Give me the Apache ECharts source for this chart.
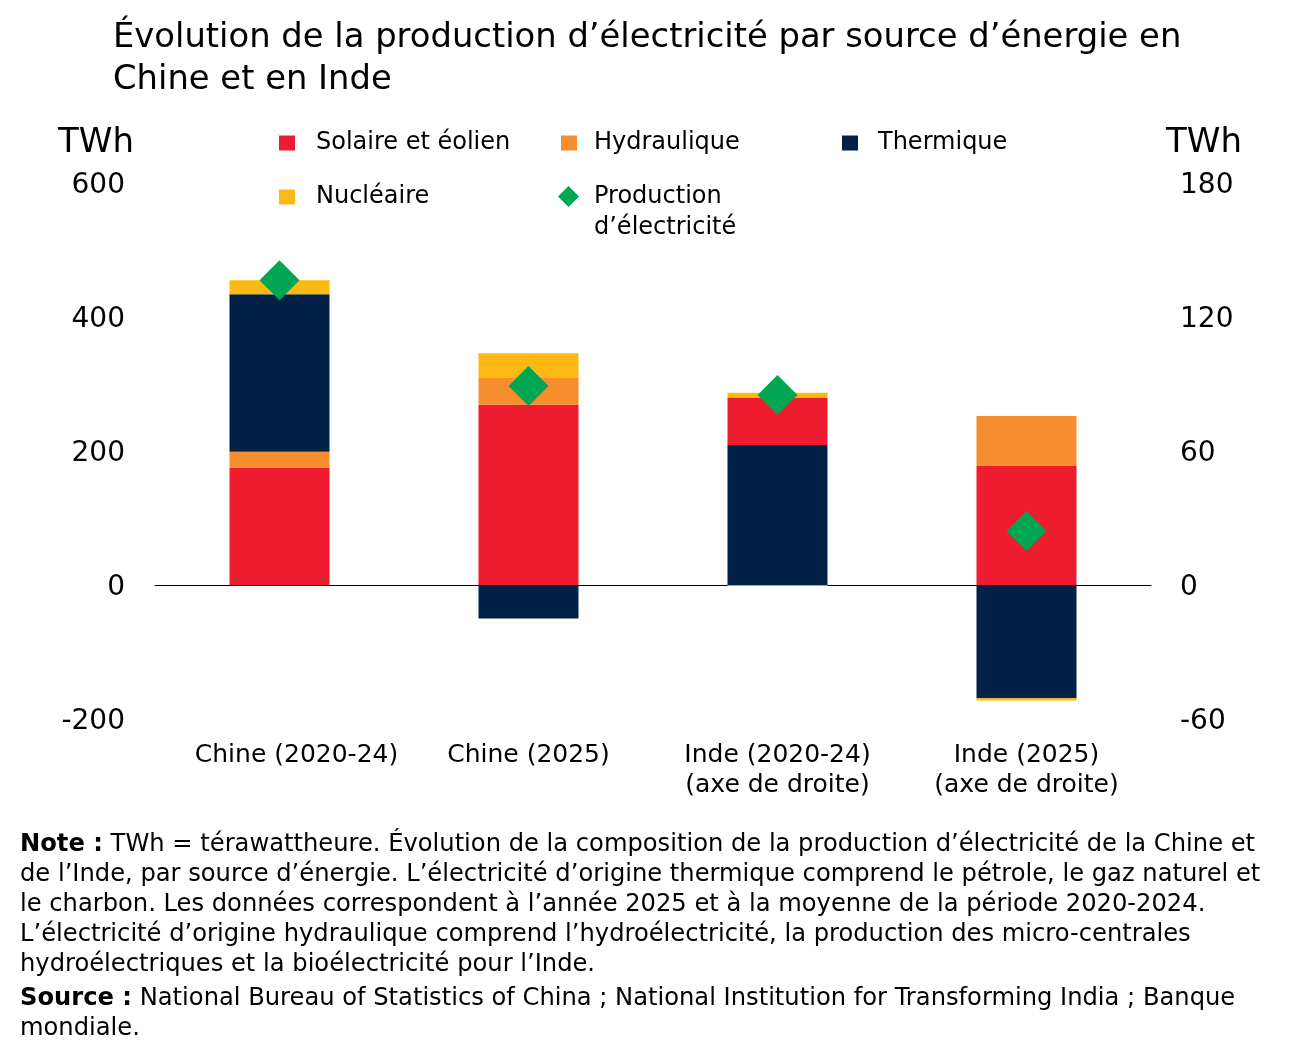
<!DOCTYPE html>
<html><head><meta charset="utf-8">
<script src="https://cdn.jsdelivr.net/npm/echarts@6/dist/echarts.min.js"></script>
<style>html,body{margin:0;padding:0;background:#fff}#c{width:1298px;height:1062px}</style>
</head><body><div id="c"></div>
<script>
// ---- data ----
const categories = ['Chine (2020-24)', 'Chine (2025)', 'Inde (2020-24)\n(axe de droite)', 'Inde (2025)\n(axe de droite)'];
// Chine — left axis (TWh)
const chineSolaire    = [175, 269, '-', '-'];
const chineHydro      = [24, 40, '-', '-'];
const chineThermique  = [235, -50, '-', '-'];
const chineNucleaire  = [21, 37, '-', '-'];
const chineProduction = [455, 297, '-', '-'];
// Inde — right axis (TWh)
const indeThermique   = ['-', '-', 62.7, -50.7];
const indeSolaire     = ['-', '-', 21.2, 53.3];
const indeHydro       = ['-', '-', -0.5, 22.4];
const indeNucleaire   = ['-', '-', 2.2, -1.0];
const indeProduction  = ['-', '-', 85.1, 24.2];
// axis ticks
const leftAxisTicks  = [-200, 0, 200, 400, 600];
const rightAxisTicks = [-60, 0, 60, 120, 180];

const N_SOL = 'Solaire et éolien', N_HYD = 'Hydraulique', N_THE = 'Thermique', N_NUC = 'Nucléaire', N_PRO = 'Production d’électricité';
const C = {sol:'#ED1C2E', hyd:'#F68D2E', the:'#012246', nuc:'#FDB913', pro:'#00A651'};
const FONT = 'DejaVu Sans';

function bar(name, data, color, yi) {
  return {type:'bar', name, data, stack:'all', yAxisIndex:yi, barWidth:100,
    itemStyle:{color}, emphasis:{disabled:true}};
}
function legend(name, left, top, padLeft, opts) {
  return Object.assign({
    data:[name], left, top, orient:'horizontal', padding:0, itemWidth:16, itemHeight:15, icon:'rect',
    selectedMode:false,
    textStyle:{fontFamily:FONT, fontSize:24, color:'#000', lineHeight:30, padding:[0,0,0,padLeft]}
  }, opts || {});
}
const yLabel = (margin) => ({
  margin, formatter:'{v|{value}}',
  rich:{v:{fontFamily:FONT, fontSize:28, color:'#000', padding:[6,0,0,0]}}
});

const chart = echarts.init(document.getElementById('c'), null, {renderer:'canvas'});
chart.setOption({
  backgroundColor:'#fff',
  animation:false,
  textStyle:{fontFamily:FONT},
  title:{
    text:'Évolution de la production d’électricité par source d’énergie en\nChine et en Inde',
    left:113, top:17, padding:0,
    textStyle:{fontFamily:FONT, fontSize:33.8, fontWeight:'normal', color:'#000', lineHeight:42}
  },
  legend:[
    legend(N_SOL, 279, 128, 16),
    legend(N_HYD, 561, 128, 12),
    legend(N_THE, 842, 128, 15),
    legend(N_NUC, 279, 182, 16),
    legend(N_PRO, 558, 150, 12, {icon:'diamond', itemWidth:21, itemHeight:21,
      formatter: () => '\nProduction\nd’électricité',
      textStyle:{fontFamily:FONT, fontSize:24, color:'#000', lineHeight:31, padding:[0,0,0,10]}})
  ],
  grid:{left:155, right:147, top:183, bottom:343, containLabel:false},
  xAxis:[
    {type:'category', data:[
        {value:categories[0], textStyle:{padding:[0,0,0,34]}},
        categories[1], categories[2], categories[3]],
      position:'bottom',
      axisLine:{show:false, onZero:false}, axisTick:{show:false}, splitLine:{show:false},
      axisLabel:{fontFamily:FONT, fontSize:25, color:'#000', lineHeight:30, margin:21, interval:0}},
    {type:'category', data:categories, position:'bottom',
      axisLine:{show:true, onZero:true, lineStyle:{color:'#000', width:1.2}},
      axisTick:{show:false}, axisLabel:{show:false}, splitLine:{show:false}}
  ],
  yAxis:[
    {type:'value', position:'left', min:leftAxisTicks[0], max:leftAxisTicks[leftAxisTicks.length-1], interval:200,
      axisLine:{show:false}, axisTick:{show:false}, splitLine:{show:false},
      axisLabel:yLabel(30)},
    {type:'value', position:'right', min:rightAxisTicks[0], max:rightAxisTicks[rightAxisTicks.length-1], interval:60,
      axisLine:{show:false}, axisTick:{show:false}, splitLine:{show:false},
      axisLabel:yLabel(29)}
  ],
  series:[
    bar(N_SOL, chineSolaire, C.sol, 0),
    bar(N_HYD, chineHydro, C.hyd, 0),
    bar(N_THE, chineThermique, C.the, 0),
    bar(N_NUC, chineNucleaire, C.nuc, 0),
    bar(N_THE, indeThermique, C.the, 1),
    bar(N_SOL, indeSolaire, C.sol, 1),
    bar(N_HYD, indeHydro, C.hyd, 1),
    bar(N_NUC, indeNucleaire, C.nuc, 1),
    {type:'scatter', name:N_PRO, data:chineProduction, yAxisIndex:0, symbol:'diamond', symbolSize:40,
      itemStyle:{color:C.pro, opacity:1}, z:5, emphasis:{disabled:true}},
    {type:'scatter', name:N_PRO, data:indeProduction, yAxisIndex:1, symbol:'diamond', symbolSize:40,
      itemStyle:{color:C.pro, opacity:1}, z:5, emphasis:{disabled:true}}
  ],
  graphic:[
    {type:'text', left:58, top:126, style:{text:'TWh', font:'34px "DejaVu Sans"', fill:'#000'}},
    {type:'text', left:1166, top:126, style:{text:'TWh', font:'34px "DejaVu Sans"', fill:'#000'}},
    {type:'text', left:20, top:830, style:{
      text:'{b|Note :} TWh = térawattheure. Évolution de la composition de la production d’électricité de la Chine et\n' +
           'de l’Inde, par source d’énergie. L’électricité d’origine thermique comprend le pétrole, le gaz naturel et\n' +
           'le charbon. Les données correspondent à l’année 2025 et à la moyenne de la période 2020-2024.\n' +
           'L’électricité d’origine hydraulique comprend l’hydroélectricité, la production des micro-centrales\n' +
           'hydroélectriques et la bioélectricité pour l’Inde.',
      font:'24.2px "DejaVu Sans"', fill:'#000', lineHeight:30,
      rich:{b:{fontWeight:'bold', fontSize:24.2, fontFamily:FONT, fill:'#000', lineHeight:30}}}},
    {type:'text', left:20, top:984, style:{
      text:'{b|Source :} National Bureau of Statistics of China ; National Institution for Transforming India ; Banque\nmondiale.',
      font:'24.2px "DejaVu Sans"', fill:'#000', lineHeight:30,
      rich:{b:{fontWeight:'bold', fontSize:24.2, fontFamily:FONT, fill:'#000', lineHeight:30}}}}
  ]
});
</script></body></html>
